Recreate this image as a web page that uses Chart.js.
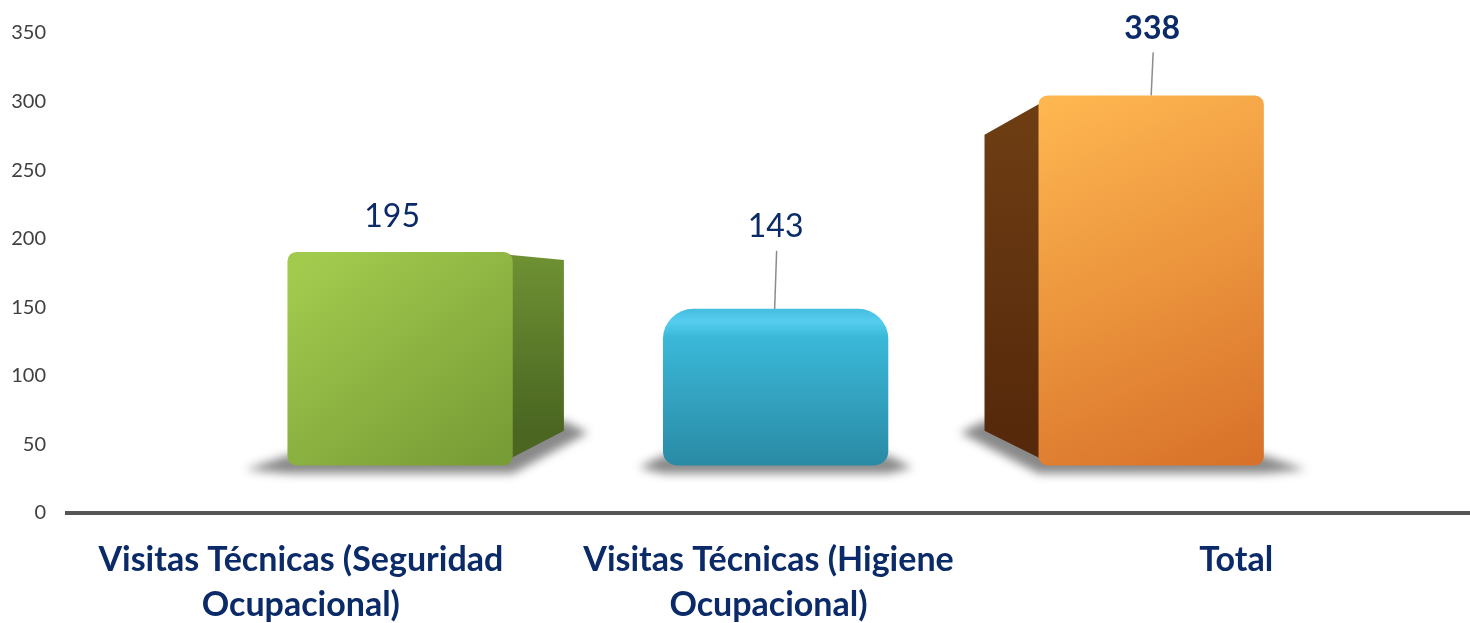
<!DOCTYPE html>
<html>
<head>
<meta charset="utf-8">
<script src="https://cdn.jsdelivr.net/npm/chart.js@4.4.1/dist/chart.umd.min.js"></script>
<style>
    html, body { margin: 0; padding: 0; background: #fff; }
    #wrap { width: 1470px; height: 623px; }
</style>
</head>
<body>
<div id="wrap"><canvas id="chart" width="1470" height="623"></canvas></div>
<script>
// chart data
const categories = [
    ['Visitas Técnicas (Seguridad', 'Ocupacional)'],
    ['Visitas Técnicas (Higiene', 'Ocupacional)'],
    'Total',
];
const values = [195, 143, 338];
const yTicks = [0, 50, 100, 150, 200, 250, 300, 350];

const FONT = 'Lato, "Open Sans", sans-serif';
const NAVY = '#0b2a68';

// face colours: [top, bottom] of the front, and of the side
const frontColors = [
    ['#a2cb4e', '#789d36'],
    ['#3dbbdb', '#2a8aa5'],
    ['#feb650', '#d8722a'],
];
const sideColors = [
    ['#6e9033', '#4a6621'],
    ['#3aa9c6', '#2a8aa5'],
    ['#6c3c13', '#56290b'],
];
const radii = [
    9,
    { topLeft: 30, topRight: 30, bottomLeft: 14, bottomRight: 14 },
    9,
];

function frontFill(context) {
    const chart = context.chart;
    const i = context.dataIndex;
    const ys = chart.scales.yFront;
    const xs = chart.scales.xFront;
    if (!ys || !chart.chartArea) return frontColors[i][0];
    const top = ys.getPixelForValue(values[i]);
    const bottom = ys.getPixelForValue(0);
    const cx = xs.getPixelForValue(i);
    if (i === 1) {
        // bevelled top edge on the blue bar
        const g2 = chart.ctx.createLinearGradient(0, top, 0, bottom);
        g2.addColorStop(0, '#45bde0');
        g2.addColorStop(0.08, '#56cdef');
        g2.addColorStop(0.18, '#3ab8d8');
        g2.addColorStop(1, frontColors[i][1]);
        return g2;
    }
    const g = chart.ctx.createLinearGradient(cx - 80, top, cx + 80, bottom);
    g.addColorStop(0, frontColors[i][0]);
    g.addColorStop(1, frontColors[i][1]);
    return g;
}

// sides and floor shadows of the pseudo-3D columns
const depth3d = {
    id: 'depth3d',
    beforeDatasetsDraw(chart, args, opts) {
        const { ctx, chartArea } = chart;
        const vpX = (chartArea.left + chartArea.right) / 2;
        const vpY = chartArea.top + (chartArea.bottom - chartArea.top) * opts.vpY;
        const k = opts.depth;
        chart.getDatasetMeta(0).data.forEach((bar, i) => {
            const { x, y, base, width } = bar.getProps(['x', 'y', 'base', 'width'], true);
            const l = x - width / 2;
            const r = x + width / 2;
            let edge = null;
            if (vpX > r) edge = r;
            else if (vpX < l) edge = l;
            const tx = edge === null ? 0 : edge + (vpX - edge) * k;
            const ty = y + (vpY - y) * k;
            const by = base + (vpY - base) * k;

            // shadow
            let pts;
            if (edge === r) {
                pts = [[l - 42, base + 4], [l, base - 10], [tx, by - 10], [tx + 24, by + 2], [r, base + 8], [l, base + 8]];
            } else if (edge === l) {
                pts = [[tx - 24, by + 2], [tx, by - 10], [r, base - 10], [r + 42, base + 4], [r, base + 8], [l, base + 8]];
            } else {
                pts = [[l - 24, base + 2], [l, base - 10], [r, base - 10], [r + 24, base + 2], [r, base + 8], [l, base + 8]];
            }
            ctx.save();
            ctx.filter = 'blur(5px)';
            ctx.fillStyle = 'rgba(40, 40, 40, 0.55)';
            ctx.beginPath();
            pts.forEach((p, j) => (j ? ctx.lineTo(p[0], p[1]) : ctx.moveTo(p[0], p[1])));
            ctx.closePath();
            ctx.fill();
            ctx.restore();

            if (edge === null) return;
            const inner = edge === r ? edge - 12 : edge + 12;
            const g = ctx.createLinearGradient(0, ty, 0, by);
            g.addColorStop(0, sideColors[i][0]);
            g.addColorStop(1, sideColors[i][1]);
            ctx.save();
            ctx.fillStyle = g;
            ctx.beginPath();
            ctx.moveTo(inner, y + 2);
            ctx.lineTo(tx, ty);
            ctx.lineTo(tx, by);
            ctx.lineTo(inner, base - 2);
            ctx.closePath();
            ctx.fill();
            ctx.restore();
        });
    },
};

// value labels, with leader lines when the label sits high above the column
const valueLabels = {
    id: 'valueLabels',
    afterDatasetsDraw(chart, args, opts) {
        const { ctx } = chart;
        chart.getDatasetMeta(0).data.forEach((bar, i) => {
            const { x, y } = bar.getProps(['x', 'y'], true);
            const lx = x + opts.shift[i];
            const ly = y - opts.lift[i];
            ctx.save();
            ctx.font = `${opts.bold[i] ? 'bold ' : ''}32px ${FONT}`;
            ctx.fillStyle = NAVY;
            ctx.textAlign = 'center';
            ctx.textBaseline = 'middle';
            ctx.fillText(String(values[i]), lx, ly);
            if (opts.lift[i] > 50) {
                ctx.strokeStyle = '#8c8c8c';
                ctx.lineWidth = 1.5;
                ctx.beginPath();
                ctx.moveTo(lx + 1, ly + 24);
                ctx.lineTo(lx - 1, y);
                ctx.stroke();
            }
            ctx.restore();
        });
    },
};

const ctx = document.getElementById('chart').getContext('2d');
new Chart(ctx, {
    type: 'bar',
    data: {
        datasets: [{
            data: values.map((v, i) => ({ x: i, y: v })),
            xAxisID: 'xFront',
            yAxisID: 'yFront',
            backgroundColor: frontFill,
            borderWidth: 0,
            borderRadius: (c) => radii[c.dataIndex],
            borderSkipped: false,
            categoryPercentage: 1,
            barPercentage: 0.6,
        }],
    },
    options: {
        responsive: false,
        animation: false,
        layout: { padding: { top: 14, left: 8, right: 0, bottom: 0 } },
        plugins: {
            legend: { display: false },
            tooltip: { enabled: false },
            depth3d: { vpY: 0.54, depth: 0.2 },
            valueLabels: { lift: [35, 82, 67], shift: [-8, 0, 1], bold: [false, false, true] },
        },
        scales: {
            x: {
                type: 'category',
                labels: categories,
                offset: true,
                afterFit: (scale) => { scale.height = 110; },
                grid: { display: false, drawTicks: false },
                border: { display: true, color: '#555555', width: 4 },
                ticks: {
                    color: NAVY,
                    font: { family: FONT, size: 34, weight: 'bold', lineHeight: 1.32 },
                    padding: 25,
                    maxRotation: 0,
                    autoSkip: false,
                },
            },
            y: {
                min: 0,
                max: 350,
                afterBuildTicks: (scale) => { scale.ticks = yTicks.map((v) => ({ value: v })); },
                afterFit: (scale) => { scale.width = 59; },
                grid: { display: false, drawTicks: false },
                border: { display: false },
                ticks: {
                    color: '#404040',
                    font: { family: FONT, size: 20 },
                    padding: 21,
                },
            },
            // front plane of the 3D columns (perspective-shifted)
            xFront: {
                type: 'linear',
                display: false,
                offset: false,
                min: -0.887,
                max: 2.849,
                afterBuildTicks: (scale) => { scale.ticks = values.map((v, i) => ({ value: i })); },
            },
            yFront: {
                type: 'linear',
                display: false,
                min: -43.5,
                max: 395,
            },
        },
    },
    plugins: [depth3d, valueLabels],
});
</script>
</body>
</html>
